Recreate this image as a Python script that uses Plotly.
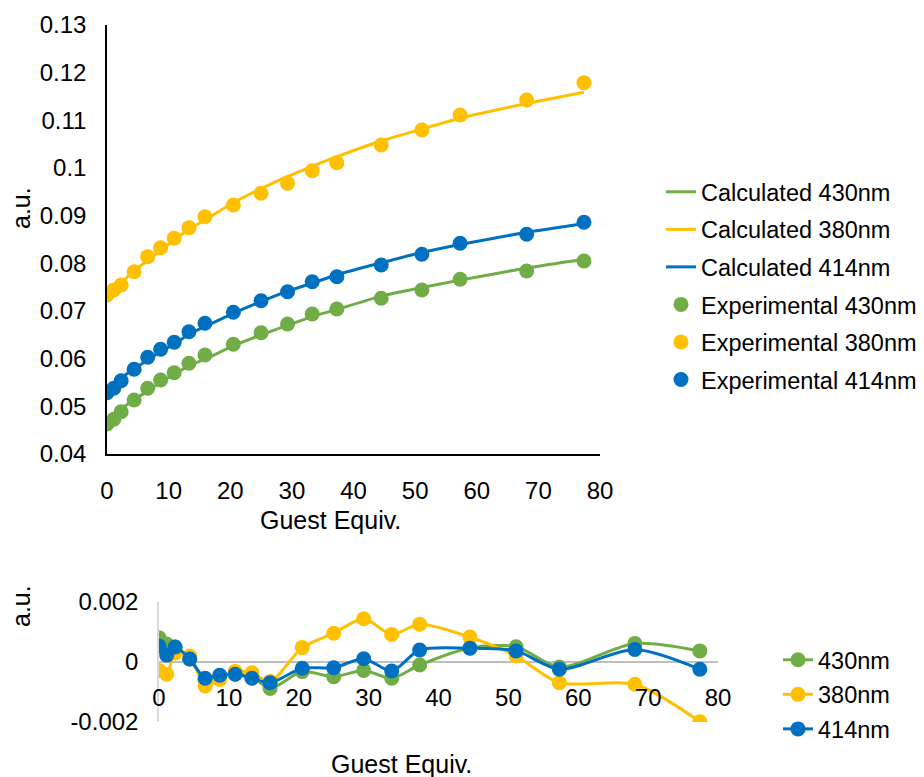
import plotly.graph_objects as go

# Guest equivalents added at each titration point
guest_equiv = [0, 1.1, 2.3, 4.4, 6.6, 8.7, 10.9, 13.3, 15.9, 20.5, 25.0,
               29.3, 33.3, 37.3, 44.5, 51.1, 57.3, 68.1, 77.4]

# Measured absorbance at the three wavelengths
exp_430 = [0.04629, 0.04728, 0.04887, 0.05133, 0.05378, 0.05552, 0.05706,
           0.05903, 0.06077, 0.06301, 0.06545, 0.06727, 0.06937, 0.07042,
           0.07266, 0.07441, 0.07665, 0.07839, 0.08049]
exp_380 = [0.07336, 0.07441, 0.07545, 0.07825, 0.08140, 0.08328, 0.08525,
           0.08748, 0.08978, 0.09224, 0.09469, 0.09679, 0.09943, 0.10111,
           0.10483, 0.10797, 0.11112, 0.11427, 0.11790]
exp_414 = [0.05286, 0.05378, 0.05538, 0.05777, 0.06029, 0.06196, 0.06343,
           0.06566, 0.06742, 0.06973, 0.07216, 0.07405, 0.07615, 0.07720,
           0.07965, 0.08190, 0.08420, 0.08609, 0.08861]

# Fitted binding-isotherm absorbance
calc_430 = [0.04710, 0.04788, 0.04937, 0.05143, 0.05318, 0.05507, 0.05666,
            0.05853, 0.05989, 0.06269, 0.06496, 0.06699, 0.06883, 0.07032,
            0.07313, 0.07492, 0.07648, 0.07901, 0.08086]
calc_380 = [0.07308, 0.07400, 0.07575, 0.07845, 0.08060, 0.08270, 0.08493,
            0.08712, 0.08913, 0.09272, 0.09565, 0.09823, 0.10035, 0.10237,
            0.10566, 0.10817, 0.11043, 0.11353, 0.11591]
calc_414 = [0.05339, 0.05401, 0.05588, 0.05787, 0.05975, 0.06152, 0.06302,
            0.06512, 0.06673, 0.06952, 0.07197, 0.07416, 0.07585, 0.07760,
            0.08011, 0.08227, 0.08396, 0.08651, 0.08837]

# Residuals (calculated - experimental)
resid_430 = [0.00081, 0.00060, 0.00050, 0.00010, -0.00060, -0.00045, -0.00040,
             -0.00050, -0.00088, -0.00032, -0.00049, -0.00028, -0.00054,
             -0.00010, 0.00047, 0.00051, -0.00017, 0.00062, 0.00037]
resid_380 = [-0.00028, -0.00041, 0.00030, 0.00020, -0.00080, -0.00058, -0.00032,
             -0.00036, -0.00065, 0.00048, 0.00096, 0.00144, 0.00092, 0.00126,
             0.00083, 0.00020, -0.00069, -0.00074, -0.00199]
resid_414 = [0.00053, 0.00023, 0.00050, 0.00010, -0.00054, -0.00044, -0.00041,
             -0.00054, -0.00069, -0.00021, -0.00019, 0.00011, -0.00030,
             0.00040, 0.00046, 0.00037, -0.00024, 0.00042, -0.00024]

top_y_ticks = [0.04, 0.05, 0.06, 0.07, 0.08, 0.09, 0.10, 0.11, 0.12, 0.13]
top_y_text = ["0.04", "0.05", "0.06", "0.07", "0.08", "0.09", "0.1", "0.11", "0.12", "0.13"]
res_y_ticks = [-0.002, 0, 0.002]
res_y_text = ["-0.002", "0", "0.002"]
x_ticks = [0, 10, 20, 30, 40, 50, 60, 70, 80]

GREEN = "#70AD47"
YELLOW = "#FFC000"
BLUE = "#0070C0"
FONT = "Liberation Sans, Arial, sans-serif"

W, H = 924, 777


def px_x(p):
    return p / W


def px_y(p):
    return 1 - p / H


fig = go.Figure()

for name, ys, col in [("Calculated 430nm", calc_430, GREEN),
                      ("Calculated 380nm", calc_380, YELLOW),
                      ("Calculated 414nm", calc_414, BLUE)]:
    fig.add_trace(go.Scatter(x=guest_equiv, y=ys, mode="lines", name=name,
                             line=dict(color=col, width=3, shape="spline", smoothing=0.6),
                             xaxis="x", yaxis="y", legend="legend", legendgroup=name))

for name, ys, col in [("Experimental 430nm", exp_430, GREEN),
                      ("Experimental 380nm", exp_380, YELLOW),
                      ("Experimental 414nm", exp_414, BLUE)]:
    fig.add_trace(go.Scatter(x=guest_equiv, y=ys, mode="markers", name=name,
                             marker=dict(color=col, size=15),
                             xaxis="x", yaxis="y", legend="legend", legendgroup=name))

for name, ys, col in [("430nm", resid_430, GREEN),
                      ("380nm", resid_380, YELLOW),
                      ("414nm", resid_414, BLUE)]:
    fig.add_trace(go.Scatter(x=guest_equiv, y=ys, mode="lines+markers", name=name,
                             line=dict(color=col, width=3, shape="spline", smoothing=0.8),
                             marker=dict(color=col, size=15),
                             xaxis="x2", yaxis="y2", legend="legend2", legendgroup="r" + name))

tick_font = dict(family=FONT, size=24, color="black")
legend_font = dict(family=FONT, size=23.5, color="black")
title_font = dict(family=FONT, size=25, color="black")

fig.update_layout(
    width=W, height=H,
    margin=dict(l=0, r=0, t=0, b=0, autoexpand=False),
    paper_bgcolor="white", plot_bgcolor="white",
    font=tick_font,
    showlegend=True,
    xaxis=dict(domain=[px_x(107), px_x(600)], range=[0, 80], tickvals=x_ticks,
               showgrid=False, zeroline=False, showline=True, linecolor="black",
               linewidth=1.5, ticks="", tickfont=tick_font, ticklabelstandoff=14,
               anchor="y", automargin=False),
    yaxis=dict(domain=[px_y(454), px_y(25)], range=[0.04, 0.13], tickvals=top_y_ticks,
               ticktext=top_y_text, showgrid=False, zeroline=False, showline=True,
               linecolor="black", linewidth=1.5, ticks="", tickfont=tick_font,
               ticklabelstandoff=14, anchor="x", automargin=False),
    xaxis2=dict(domain=[px_x(159), px_x(718)], range=[0, 80], tickvals=x_ticks,
                showgrid=False, zeroline=False, showline=False, ticks="",
                tickfont=tick_font, anchor="free", position=px_y(661),
                ticklabelstandoff=20, automargin=False),
    yaxis2=dict(domain=[px_y(722), px_y(602)], range=[-0.002, 0.002],
                tickvals=res_y_ticks, ticktext=res_y_text,
                showgrid=True, gridcolor="#d9d9d9", gridwidth=1.5,
                zeroline=True, zerolinecolor="#bfbfbf", zerolinewidth=1.5,
                showline=True, linecolor="#d9d9d9", linewidth=1.5,
                ticks="", tickfont=tick_font, ticklabelstandoff=14, anchor="x2",
                automargin=False),
    legend=dict(x=px_x(661), y=px_y(170), xanchor="left", yanchor="top",
                font=legend_font, traceorder="grouped", tracegroupgap=4,
                bgcolor="rgba(0,0,0,0)"),
    legend2=dict(x=px_x(778), y=px_y(638), xanchor="left", yanchor="top",
                 font=legend_font, traceorder="grouped", tracegroupgap=1,
                 bgcolor="rgba(0,0,0,0)"),
    annotations=[
        dict(text="Guest Equiv.", x=px_x(330), y=px_y(520), xref="paper", yref="paper",
             showarrow=False, font=title_font, xanchor="center", yanchor="middle"),
        dict(text="a.u.", x=px_x(21), y=px_y(208), xref="paper", yref="paper",
             showarrow=False, textangle=-90, font=title_font,
             xanchor="center", yanchor="middle"),
        dict(text="Guest Equiv.", x=px_x(401), y=px_y(764), xref="paper", yref="paper",
             showarrow=False, font=title_font, xanchor="center", yanchor="middle"),
        dict(text="a.u.", x=px_x(21), y=px_y(606), xref="paper", yref="paper",
             showarrow=False, textangle=-90, font=title_font,
             xanchor="center", yanchor="middle"),
    ],
)

fig.write_html("out.html")
